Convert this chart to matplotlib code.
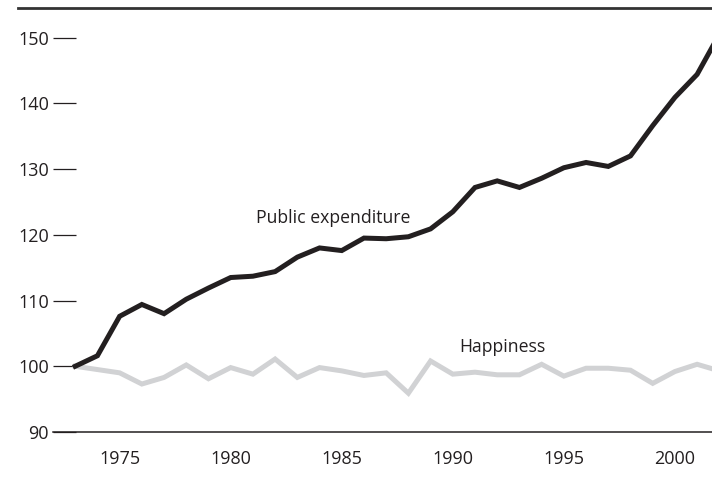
import matplotlib
matplotlib.use("Agg")
import matplotlib.pyplot as plt
from matplotlib.lines import Line2D

plt.rcParams['font.family'] = ['Open Sans', 'DejaVu Sans']

# Index values, 1973 = 100
years = list(range(1973, 2003))
public_expenditure = [
    100.0, 101.6, 107.6, 109.4, 108.0, 110.2, 111.9, 113.5, 113.7, 114.4,
    116.6, 118.0, 117.6, 119.5, 119.4, 119.7, 120.9, 123.5, 127.2, 128.2,
    127.2, 128.6, 130.2, 131.0, 130.4, 132.0, 136.6, 140.9, 144.4, 150.5,
]
happiness = [
    100.0, 99.5, 99.0, 97.3, 98.3, 100.2, 98.1, 99.8, 98.8, 101.1,
    98.3, 99.8, 99.3, 98.6, 99.0, 95.9, 100.8, 98.8, 99.1, 98.7,
    98.7, 100.3, 98.5, 99.7, 99.7, 99.4, 97.4, 99.2, 100.3, 99.3,
]
y_ticks = [90, 100, 110, 120, 130, 140, 150]
x_ticks = [1975, 1980, 1985, 1990, 1995, 2000]

ink = '#231f20'

fig = plt.figure(figsize=(7.12, 4.92), dpi=100)
ax = fig.add_axes([53 / 712, 1 - 432 / 492, 1 - 53 / 712, 424 / 492])

ax.plot(years, happiness, color='#d1d2d4', lw=3.6, solid_joinstyle='miter', zorder=2)
ax.plot(years, public_expenditure, color=ink, lw=3.6, solid_joinstyle='miter', zorder=3)

ax.text(1981.15, 122.5, 'Public expenditure', fontsize=12.7, color=ink, va='center', ha='left')
ax.text(1990.3, 102.9, 'Happiness', fontsize=12.7, color=ink, va='center', ha='left')

ax.set_xlim(1972, 2001.67)
ax.set_ylim(90, 154.5)

ax.set_yticks(y_ticks)
ax.set_xticks(x_ticks)
ax.tick_params(axis='y', direction='in', length=16.5, width=0.9, color=ink,
               labelsize=13, labelcolor=ink, pad=3)
ax.tick_params(axis='x', length=0, labelsize=13, labelcolor=ink, pad=13)

for side in ['top', 'right', 'left']:
    ax.spines[side].set_visible(False)
ax.spines['bottom'].set_color(ink)
ax.spines['bottom'].set_linewidth(1.1)

# rule along the top of the figure
fig.add_artist(Line2D([18 / 712, 1.0], [1 - 8 / 492, 1 - 8 / 492],
                      transform=fig.transFigure, color='#333333', lw=2.0))

fig.savefig('out.png', dpi=100)
